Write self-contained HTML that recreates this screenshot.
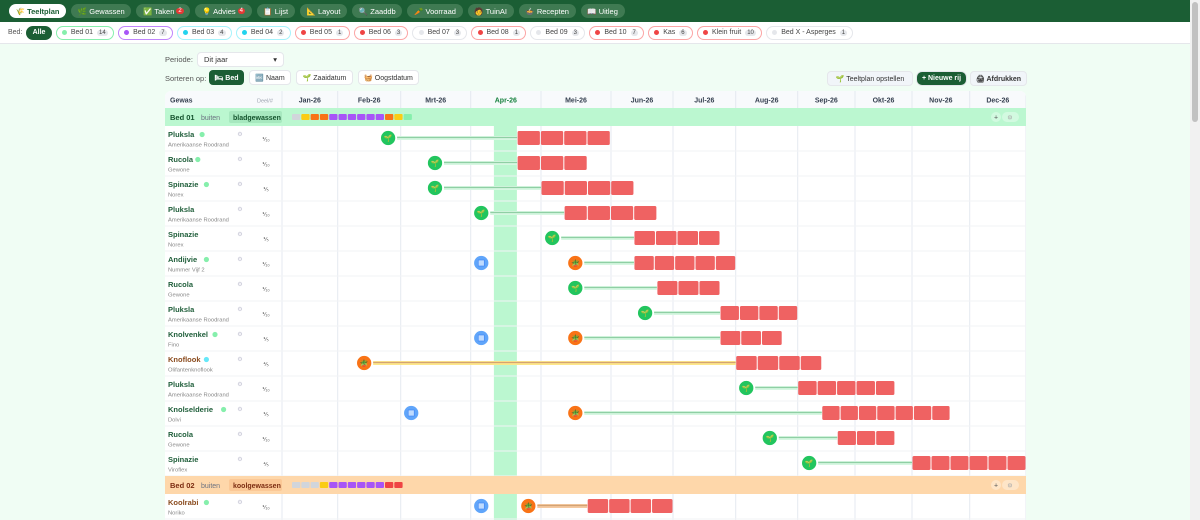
<!DOCTYPE html>
<html><head><meta charset="utf-8">
<style>
*{box-sizing:border-box;margin:0;padding:0}
body{width:1200px;height:520px;overflow:hidden;background:#f0fdf4;font-family:"Liberation Sans",sans-serif;font-size:8px;color:#333;position:relative}
.nav{position:absolute;left:0;top:0;width:1190px;height:22px;background:#1b5e34;display:flex;gap:5px;padding:4px 9px}
.nb{height:14px;border-radius:8px;background:#3f7a52;color:#fff;padding:0 6.7px;display:flex;align-items:center;gap:2px;font-size:7.5px}
.nb.on{background:#fff;color:#1b5e34;font-weight:bold}
.badge{background:#e53935;color:#fff;border-radius:3px;font-size:6px;padding:0 2px}
.filt{position:absolute;left:0;top:22px;width:1190px;height:22px;background:#fff;border-bottom:1px solid #e5e7eb;display:flex;gap:4px;align-items:center;padding-left:8px}
.chip{height:14px;border-radius:7px;border:1px solid #ccc;padding:0 5.2px;display:flex;align-items:center;gap:4px;font-size:7px;color:#444;background:#fff}
.chip i{width:5px;height:5px;border-radius:50%;display:inline-block}
.chip b{background:#e5e7eb;border-radius:5px;padding:0 2px;font-weight:normal;font-size:6px}
.btn{position:absolute;height:15px;border-radius:4px;background:#fff;border:1px solid #e5e7eb;font-size:7px;display:flex;align-items:center;justify-content:center;color:#333}
.tbl{position:absolute;left:165px;top:91px;width:861px;height:429px;background:#fff;border-radius:6px 6px 0 0;overflow:hidden}
.scroll{position:absolute;left:1190px;top:0;width:10px;height:520px;background:#f1f1f1}
.thumb{position:absolute;left:2px;top:2px;width:6px;height:120px;background:#c1c1c1;border-radius:3px}
</style></head><body>
<div class="nav">
<div class="nb on">🌾 Teeltplan</div>
<div class="nb">🌿 Gewassen</div>
<div class="nb">✅ Taken <span class="badge">2</span></div>
<div class="nb">💡 Advies <span class="badge">4</span></div>
<div class="nb">📋 Lijst</div>
<div class="nb">📐 Layout</div>
<div class="nb">🔍 Zaaddb</div>
<div class="nb">🥕 Voorraad</div>
<div class="nb">🧑 TuinAI</div>
<div class="nb">🍲 Recepten</div>
<div class="nb">📖 Uitleg</div>
</div>
<div class="filt">
<span style="color:#555;font-size:7px">Bed:</span>
<div class="chip" style="background:#1b5e34;color:#fff;border-color:#1b5e34;font-weight:bold">Alle</div>
<div class="chip" style="border-color:#86efac"><i style="background:#86efac"></i>Bed 01 <b>14</b></div>
<div class="chip" style="border-color:#c084fc"><i style="background:#a855f7"></i>Bed 02 <b>7</b></div>
<div class="chip" style="border-color:#a5f3fc"><i style="background:#22d3ee"></i>Bed 03 <b>4</b></div>
<div class="chip" style="border-color:#a5f3fc"><i style="background:#22d3ee"></i>Bed 04 <b>2</b></div>
<div class="chip" style="border-color:#fca5a5"><i style="background:#ef4444"></i>Bed 05 <b>1</b></div>
<div class="chip" style="border-color:#fca5a5"><i style="background:#ef4444"></i>Bed 06 <b>3</b></div>
<div class="chip" style="border-color:#e5e7eb"><i style="background:#e5e7eb"></i>Bed 07 <b>3</b></div>
<div class="chip" style="border-color:#fca5a5"><i style="background:#ef4444"></i>Bed 08 <b>1</b></div>
<div class="chip" style="border-color:#e5e7eb"><i style="background:#e5e7eb"></i>Bed 09 <b>3</b></div>
<div class="chip" style="border-color:#fca5a5"><i style="background:#ef4444"></i>Bed 10 <b>7</b></div>
<div class="chip" style="border-color:#fca5a5"><i style="background:#ef4444"></i>Kas <b>6</b></div>
<div class="chip" style="border-color:#fca5a5"><i style="background:#ef4444"></i>Klein fruit <b>10</b></div>
<div class="chip" style="border-color:#e5e7eb"><i style="background:#e5e7eb"></i>Bed X - Asperges <b>1</b></div>
</div>
<div style="position:absolute;left:165px;top:55px;font-size:7.5px;color:#555">Periode:</div>
<div class="btn" style="left:197px;top:52px;width:87px;justify-content:space-between;padding:0 6px;font-size:7.5px">Dit jaar <span>▾</span></div>
<div style="position:absolute;left:165px;top:74px;font-size:7.5px;color:#555">Sorteren op:</div>
<div class="btn" style="left:209px;top:70px;width:35px;background:#1b5e34;color:#fff;font-weight:bold;border-color:#1b5e34">🛏 Bed</div>
<div class="btn" style="left:249px;top:70px;width:42px">🔤 Naam</div>
<div class="btn" style="left:296px;top:70px;width:57px">🌱 Zaaidatum</div>
<div class="btn" style="left:358px;top:70px;width:61px">🧺 Oogstdatum</div>
<div class="btn" style="left:827px;top:71px;width:86px;background:#f1f5f9">🌱 Teeltplan opstellen</div>
<div class="btn" style="left:916px;top:71px;width:51px;background:#1b5e34;color:#fff;font-weight:bold;border-radius:6px">+ Nieuwe rij</div>
<div class="btn" style="left:970px;top:71px;width:57px;background:#f1f5f9;font-weight:bold">🖨 Afdrukken</div>
<div class="tbl" id="tbl">
<svg id="svg" width="861" height="429" style="position:absolute;left:0;top:0;font-family:'Liberation Sans',sans-serif"></svg>
</div>
<div class="scroll"><div class="thumb"></div></div>
<script>
const months=["Jan-26","Feb-26","Mrt-26","Apr-26","Mei-26","Jun-26","Jul-26","Aug-26","Sep-26","Okt-26","Nov-26","Dec-26"];
const cropNames=["Pluksla","Rucola","Spinazie","Pluksla","Spinazie","Andijvie","Rucola","Pluksla","Knolvenkel","Knoflook","Pluksla","Knolselderie","Rucola","Spinazie"];
const varieties=["Amerikaanse Roodrand","Gewone","Norex","Amerikaanse Roodrand","Norex","Nummer Vijf 2","Gewone","Amerikaanse Roodrand","Fino","Olifantenknoflook","Amerikaanse Roodrand","Dolvi","Gewone","Viroflex"];
const fractions=["⅟₁₀","⅟₁₀","⅕","⅟₁₀","⅕","⅟₁₀","⅟₁₀","⅟₁₀","⅕","⅘","⅟₁₀","⅕","⅟₁₀","⅘"];
const dots=["#86efac","#86efac","#86efac",null,null,"#86efac",null,null,"#86efac","#67e8f9",null,"#86efac",null,null];
const indoorSow=[null,null,null,null,null,3.15,null,null,3.15,null,null,2.15,null,null];
const sowDate=[1.8,2.49,2.49,3.15,4.16,null,4.49,5.55,null,null,7.17,null,7.55,8.2];
const plantDate=[null,null,null,null,null,4.49,null,null,4.49,1.42,null,4.49,null,null];
const harvestStart=[3.66,3.66,4.0,4.33,5.37,5.37,5.74,6.75,6.75,7.0,8.0,8.42,8.69,10.0];
const harvestEnd=[4.99,4.66,5.37,5.74,6.75,7.0,6.75,8.0,7.75,8.42,9.7,10.66,9.7,12.0];
const harvestWeeks=[4,3,4,4,4,5,3,4,3,4,5,7,3,6];
const bed02Crop=["Koolrabi","Noriko","⅟₁₀",3.15,3.82,4.66,6.0,4];
const bed01Strip=["#d1d5db","#facc15","#f97316","#f97316","#a855f7","#a855f7","#a855f7","#a855f7","#a855f7","#a855f7","#f97316","#facc15","#86efac"];
const bed02Strip=["#d1d5db","#d1d5db","#d1d5db","#facc15","#a855f7","#a855f7","#a855f7","#a855f7","#a855f7","#a855f7","#ef4444","#ef4444"];
const todayMonth=3.33;

const B=[117,172.7,235.7,305.7,376,446,508,570.7,632.7,690,747,804.7,861];
function xm(m){const i=Math.min(11,Math.floor(m));return B[i]+(m-i)*(B[i+1]-B[i]);}
const svg=document.getElementById('svg');const NS='http://www.w3.org/2000/svg';
function el(t,a,p){const e=document.createElementNS(NS,t);for(const k in a)e.setAttribute(k,a[k]);(p||svg).appendChild(e);return e;}
function txt(x,y,s,a){const e=el('text',Object.assign({x:x,y:y},a));e.textContent=s;return e;}
const H0=17,BED=18,RH=25;
let r=el('rect',{x:0,y:0,width:861,height:H0,fill:'#f8fafc'});

let t=txt(5,11.5,'Gewas',{'font-size':7,'font-weight':'bold',fill:'#374151'});

txt(92,11.5,'Deel/#',{'font-size':5.5,fill:'#9ca3af'});
const bodyTop=H0;
for(let i=0;i<=12;i++){el('line',{x1:B[i],x2:B[i],y1:0,y2:429,stroke:'#e5e9f0','stroke-width':1});}
months.forEach((m,i)=>{const l=txt((B[i]+B[i+1])/2,11.5,m,{'font-size':7,'text-anchor':'middle',fill:i==3?'#15803d':'#374151','font-weight':'bold'});
});
function bedRow(y,name,cat,bg,tagbg,col,strip){
 const g=el('g',{});
 el('rect',{x:0,y:y,width:861,height:BED,fill:bg},g);
 txt(5,y+12,name,{'font-size':7.5,'font-weight':'bold',fill:col},g);
 txt(36,y+12,'buiten',{'font-size':7,fill:'#6b7280'},g);
 el('rect',{x:64,y:y+3,width:53,height:12,rx:2,fill:tagbg},g);
 txt(68,y+12,cat,{'font-size':7,'font-weight':'bold',fill:col},g);
 strip.forEach((c,i)=>el('rect',{x:127+i*9.3,y:y+6,width:8.3,height:6,rx:1,fill:c},g));
 el('circle',{cx:831,cy:y+9,r:5,fill:'rgba(255,255,255,.35)'},g);txt(831,y+11.5,'+',{'font-size':7,'text-anchor':'middle',fill:'#555'},g);
 el('rect',{x:837,y:y+4,width:17,height:10,rx:5,fill:'rgba(255,255,255,.35)'},g);txt(845,y+11.5,'⚙',{'font-size':6,'text-anchor':'middle',fill:'#aaa'},g);
}
function icon(m,y,type,g){const cx=xm(m);const fill={seed:'#22c55e',plant:'#f97316',indoor:'#60a5fa'}[type];
 el('circle',{cx:cx,cy:y,r:7.5,fill:fill,stroke:'#fff','stroke-width':0.7},g);
 if(type=='indoor')el('rect',{x:cx-3,y:y-3,width:6,height:6,fill:'#bfdbfe',stroke:'#3b82f6','stroke-width':.6},g);
 else txt(cx,y+2.5,type=='seed'?'🌱':'🪴',{'font-size':7,'text-anchor':'middle'},g);}
function cropRow(y,i,name,variety,frac,dot,indoor,sow,plant,hs,he,wk,nameCol,lineCol){
 const g=el('g',{});
 el('line',{x1:0,x2:861,y1:y+RH,y2:y+RH,stroke:'#f1f3f6'},g);
 txt(3,y+11,name,{'font-size':7.5,'font-weight':'bold',fill:nameCol},g);
 txt(3,y+20.5,variety,{'font-size':5.8,fill:'#888'},g);
 if(dot)el('circle',{cx:3+name.length*4.3+4,cy:y+8.5,r:2.6,fill:dot},g);
 txt(75,y+10,'⚙',{'font-size':6,fill:'#c4c4d4','text-anchor':'middle'},g);
 txt(101,y+15,frac,{'font-size':5.5,fill:'#555','text-anchor':'middle'},g);
 const cy=y+12;const start=plant!=null?plant:sow;
 if(start!=null){const lc=lineCol||'#86d6a4';
  el('line',{x1:xm(start)+9,x2:xm(hs),y1:cy,y2:cy,stroke:lc=='#86d6a4'?'#d7f7e2':lc,'stroke-width':4},g);
  el('line',{x1:xm(start)+9,x2:xm(hs),y1:cy-0.5,y2:cy-0.5,stroke:lc=='#86d6a4'?'#8fcfa4':'#d4a373','stroke-width':1.2},g);}
 const x1=xm(hs),x2=xm(he),w=(x2-x1)/wk;
 for(let k=0;k<wk;k++){const b=el('rect',{x:x1+k*w+0.5,y:cy-7,width:w-1,height:14,rx:1.5,fill:'#ef6262'},g);
  }
 if(indoor!=null)icon(indoor,cy,'indoor',g);
 if(sow!=null)icon(sow,cy,'seed',g);
 if(plant!=null)icon(plant,cy,'plant',g);
}
el('rect',{x:xm(todayMonth),y:H0,width:23,height:429,fill:'#bbf7d0'});
bedRow(bodyTop,'Bed 01','bladgewassen','#bbf7d0','#a7e8bf','#14532d',bed01Strip);
let y=bodyTop+BED;
for(let i=0;i<cropNames.length;i++){
 const brown=cropNames[i]=='Knoflook';
 cropRow(y,i,cropNames[i],varieties[i],fractions[i],dots[i],indoorSow[i],sowDate[i],plantDate[i],harvestStart[i],harvestEnd[i],harvestWeeks[i],brown?'#8a4b1e':'#1f5e3a',brown?'#fde68a':null);
 y+=RH;}
bedRow(y,'Bed 02','koolgewassen','#fed7aa','#fbc896','#7c2d12',bed02Strip);
y+=BED;
cropRow(y,14,bed02Crop[0],bed02Crop[1],bed02Crop[2],'#86efac',bed02Crop[3],null,bed02Crop[4],bed02Crop[5],bed02Crop[6],bed02Crop[7],'#8a4b1e','#f5c9a0');
</script>
</body></html>
